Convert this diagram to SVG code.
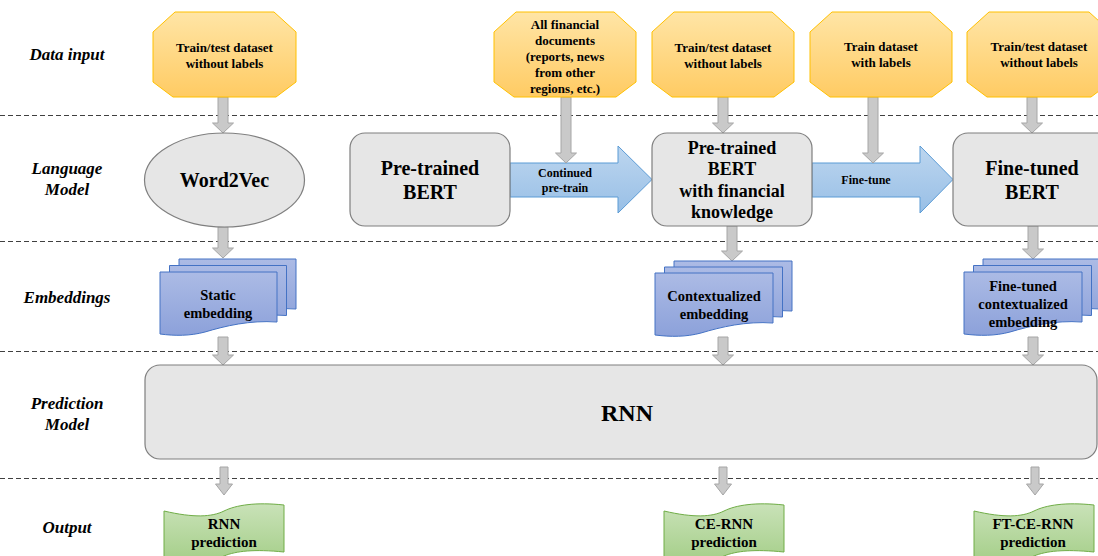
<svg xmlns="http://www.w3.org/2000/svg" width="1098" height="556" viewBox="0 0 1098 556">
  <defs>
    <linearGradient id="gOrange" x1="0" y1="0" x2="0" y2="1">
      <stop offset="0" stop-color="#FFE5A6"/>
      <stop offset="1" stop-color="#FFCB63"/>
    </linearGradient>
    <linearGradient id="gBlueArrow" x1="0" y1="0" x2="0" y2="1">
      <stop offset="0" stop-color="#BDD6EF"/>
      <stop offset="1" stop-color="#98BFE6"/>
    </linearGradient>
    <linearGradient id="gDoc" x1="0" y1="0" x2="0" y2="1">
      <stop offset="0" stop-color="#ACBBE5"/>
      <stop offset="1" stop-color="#8CA1DA"/>
    </linearGradient>
    <linearGradient id="gGreen" x1="0" y1="0" x2="0" y2="1">
      <stop offset="0" stop-color="#C9E2B8"/>
      <stop offset="1" stop-color="#A6CF8A"/>
    </linearGradient>
    <style>
      .lane { stroke: #404040; stroke-width: 1; stroke-dasharray: 5 3; fill: none; }
      .rowlbl { font-family: "Liberation Serif", "Times New Roman", serif; font-weight: bold; font-style: italic; font-size: 17px; fill: #000; text-anchor: middle; }
      .t { font-family: "Liberation Serif", "Times New Roman", serif; font-weight: bold; fill: #000; text-anchor: middle; }
      .src { fill: url(#gOrange); stroke: #FFC000; stroke-width: 1; }
      .model { fill: #E6E6E6; stroke: #7F7F7F; stroke-width: 1.2; }
      .flow { fill: url(#gBlueArrow); stroke: #5B9BD5; stroke-width: 1; }
      .doc { fill: url(#gDoc); stroke: #4472C4; stroke-width: 1; }
      .out { fill: url(#gGreen); stroke: #70AD47; stroke-width: 1; }
      .down { fill: #C9C9C9; stroke: #A6A6A6; stroke-width: 1; }
      .s12 { font-size: 12px; }
      .s13 { font-size: 13px; }
      .s14 { font-size: 14.5px; }
      .s15 { font-size: 15px; }
      .s18 { font-size: 18px; }
      .s20 { font-size: 20px; }
    </style>
  </defs>

  <rect width="1098" height="556" fill="#FFFFFF"/>

  <!-- swimlane separators -->
  <g id="lanes">
    <line class="lane" x1="0" y1="115.5" x2="1098" y2="115.5"/>
    <line class="lane" x1="0" y1="241.5" x2="1098" y2="241.5"/>
    <line class="lane" x1="0" y1="351.5" x2="1098" y2="351.5"/>
    <line class="lane" x1="0" y1="478.5" x2="1098" y2="478.5"/>
  </g>

  <!-- row titles -->
  <g id="row-labels">
    <text class="rowlbl" x="67" y="60">Data input</text>
    <text class="rowlbl" x="67" y="174">Language</text>
    <text class="rowlbl" x="67" y="195">Model</text>
    <text class="rowlbl" x="67" y="303">Embeddings</text>
    <text class="rowlbl" x="67" y="409">Prediction</text>
    <text class="rowlbl" x="67" y="430">Model</text>
    <text class="rowlbl" x="67" y="533">Output</text>
  </g>

  <!-- connectors -->
  <g id="connectors">
    <!-- blue process arrows -->
    <path class="flow" d="M510,163 H618 V146 L652,179.5 L618,213 V197 H510 Z"/>
    <path class="flow" d="M812,163 H920 V146 L953,179.5 L920,213 V197 H812 Z"/>
    <text class="t s12" x="565" y="177">Continued</text>
    <text class="t s12" x="565" y="192">pre-train</text>
    <text class="t s12" x="866" y="184">Fine-tune</text>

    <!-- data input to language model -->
    <path class="down" d="M218,97 H228 V123 H233.5 L223,133 L212.5,123 H218 Z"/>
    <path class="down" d="M561,97 H571 V153 H576.5 L566,163 L555.5,153 H561 Z"/>
    <path class="down" d="M718,97 H728 V123 H733.5 L723,133 L712.5,123 H718 Z"/>
    <path class="down" d="M868,97 H878 V153 H883.5 L873,163 L862.5,153 H868 Z"/>
    <path class="down" d="M1027,97 H1037 V123 H1042.5 L1032,133 L1021.5,123 H1027 Z"/>

    <!-- language model to embeddings -->
    <path class="down" d="M218,227 H228 V248 H233.5 L223,258 L212.5,248 H218 Z"/>
    <path class="down" d="M727,226 H737 V251 H742.5 L732,261 L721.5,251 H727 Z"/>
    <path class="down" d="M1028,226 H1038 V249 H1043.5 L1033,259 L1022.5,249 H1028 Z"/>

    <!-- embeddings to prediction model -->
    <path class="down" d="M218,337 H228 V355 H233.5 L223,365 L212.5,355 H218 Z"/>
    <path class="down" d="M718,337 H728 V355 H733.5 L723,365 L712.5,355 H718 Z"/>
    <path class="down" d="M1028,337 H1038 V355 H1043.5 L1033,365 L1022.5,355 H1028 Z"/>

    <!-- prediction model to output -->
    <path class="down" d="M220,467 H228 V484 H232.5 L224,495 L215.5,484 H220 Z"/>
    <path class="down" d="M719,467 H727 V484 H731.5 L723,495 L714.5,484 H719 Z"/>
    <path class="down" d="M1031,467 H1039 V484 H1043.5 L1035,495 L1026.5,484 H1031 Z"/>
  </g>

  <!-- data sources -->
  <g id="src-w2v-data">
    <path class="src" d="M175,12 H274 L296,32 V82 L276,97 H173 L153,82 V32 Z"/>
    <text class="t s13" x="224.5" y="52">Train/test dataset</text>
    <text class="t s13" x="224.5" y="68">without labels</text>
  </g>
  <g id="src-financial-docs">
    <path class="src" d="M516,12 H614 L636,32 V82 L616,97 H514 L494,82 V32 Z"/>
    <text class="t s13" x="565" y="28.5">All financial</text>
    <text class="t s13" x="565" y="44.5">documents</text>
    <text class="t s13" x="565" y="60.5">(reports, news</text>
    <text class="t s13" x="565" y="76.5">from other</text>
    <text class="t s13" x="565" y="92.5">regions, etc.)</text>
  </g>
  <g id="src-bert-data">
    <path class="src" d="M674,12 H772 L794,32 V82 L774,97 H672 L652,82 V32 Z"/>
    <text class="t s13" x="723" y="52">Train/test dataset</text>
    <text class="t s13" x="723" y="68">without labels</text>
  </g>
  <g id="src-labelled">
    <path class="src" d="M832,12 H930 L952,32 V82 L932,97 H830 L810,82 V32 Z"/>
    <text class="t s13" x="881" y="51">Train dataset</text>
    <text class="t s13" x="881" y="67">with labels</text>
  </g>
  <g id="src-ft-data">
    <path class="src" d="M989,12 H1089 L1111,32 V82 L1091,97 H987 L967,82 V32 Z"/>
    <text class="t s13" x="1039" y="51">Train/test dataset</text>
    <text class="t s13" x="1039" y="67">without labels</text>
  </g>

  <!-- language models -->
  <g id="word2vec">
    <ellipse class="model" cx="224.5" cy="180" rx="80" ry="47"/>
    <text class="t s20" x="224.5" y="187">Word2Vec</text>
  </g>
  <g id="bert">
    <rect class="model" x="350" y="133" width="160" height="93" rx="15"/>
    <text class="t s20" x="430" y="175">Pre-trained</text>
    <text class="t s20" x="430" y="199">BERT</text>
  </g>
  <g id="fin-bert">
    <rect class="model" x="652" y="133" width="160" height="93" rx="15"/>
    <text class="t s18" x="732" y="154">Pre-trained</text>
    <text class="t s18" x="732" y="175">BERT</text>
    <text class="t s18" x="732" y="197">with financial</text>
    <text class="t s18" x="732" y="218">knowledge</text>
  </g>
  <g id="ft-bert">
    <rect class="model" x="953" y="133" width="160" height="93" rx="15"/>
    <text class="t s20" x="1032" y="175">Fine-tuned</text>
    <text class="t s20" x="1032" y="199">BERT</text>
  </g>

  <!-- embeddings (stacked documents) -->
  <g id="emb-static">
    <path class="doc" d="M179,259 H296 V309 C269,307 244,313 224,319 C209,323 194,323 179,321 Z"/>
    <path class="doc" d="M169.5,265.5 H286.5 V315.5 C259.5,313.5 234.5,319.5 214.5,325.5 C199.5,329.5 184.5,329.5 169.5,327.5 Z"/>
    <path class="doc" d="M160,272 H277 V322 C250,320 225,326 205,332 C190,336 175,336 160,334 Z"/>
    <text class="t s14" x="218" y="300">Static</text>
    <text class="t s14" x="218" y="318">embedding</text>
  </g>
  <g id="emb-context">
    <path class="doc" d="M674,261 H792 V311 C765,309 740,315 720,321 C705,325 690,325 674,323 Z"/>
    <path class="doc" d="M664.5,267 H782.5 V317 C755.5,315 730.5,321 710.5,327 C695.5,331 680.5,331 664.5,329 Z"/>
    <path class="doc" d="M655,273 H773 V323 C746,321 721,327 701,333 C686,337 671,337 655,335 Z"/>
    <text class="t s14" x="714" y="301">Contextualized</text>
    <text class="t s14" x="714" y="319">embedding</text>
  </g>
  <g id="emb-ft-context">
    <path class="doc" d="M983,259 H1101 V309 C1074,307 1049,313 1029,319 C1014,323 999,323 983,321 Z"/>
    <path class="doc" d="M973.5,265.5 H1091.5 V315.5 C1064.5,313.5 1039.5,319.5 1019.5,325.5 C1004.5,329.5 989.5,329.5 973.5,327.5 Z"/>
    <path class="doc" d="M964,272 H1082 V322 C1055,320 1030,326 1010,332 C995,336 980,336 964,334 Z"/>
    <text class="t s14" x="1023" y="291">Fine-tuned</text>
    <text class="t s14" x="1023" y="309">contextualized</text>
    <text class="t s14" x="1023" y="327">embedding</text>
  </g>

  <!-- prediction model -->
  <g id="rnn">
    <rect class="model" x="145" y="365" width="952" height="94" rx="15"/>
    <text class="t" x="627" y="421" font-size="24">RNN</text>
  </g>

  <!-- outputs (punched tape) -->
  <g id="out-rnn">
    <path class="out" d="M164,511 C194,518 212,517 224,511 C236,505 256,502 284,505 V552 C254,549 236,551 224,556 C212,561 194,562 164,559 Z"/>
    <text class="t s15" x="224" y="529">RNN</text>
    <text class="t s15" x="224" y="547">prediction</text>
  </g>
  <g id="out-ce-rnn">
    <path class="out" d="M664,511 C694,518 712,517 724,511 C736,505 756,502 784,505 V552 C754,549 736,551 724,556 C712,561 694,562 664,559 Z"/>
    <text class="t s15" x="724" y="529">CE-RNN</text>
    <text class="t s15" x="724" y="547">prediction</text>
  </g>
  <g id="out-ft-ce-rnn">
    <path class="out" d="M974,511 C1004,518 1022,517 1034,511 C1046,505 1066,502 1094,505 V552 C1064,549 1046,551 1034,556 C1022,561 1004,562 974,559 Z"/>
    <text class="t s15" x="1033" y="529">FT-CE-RNN</text>
    <text class="t s15" x="1033" y="547">prediction</text>
  </g>
</svg>
